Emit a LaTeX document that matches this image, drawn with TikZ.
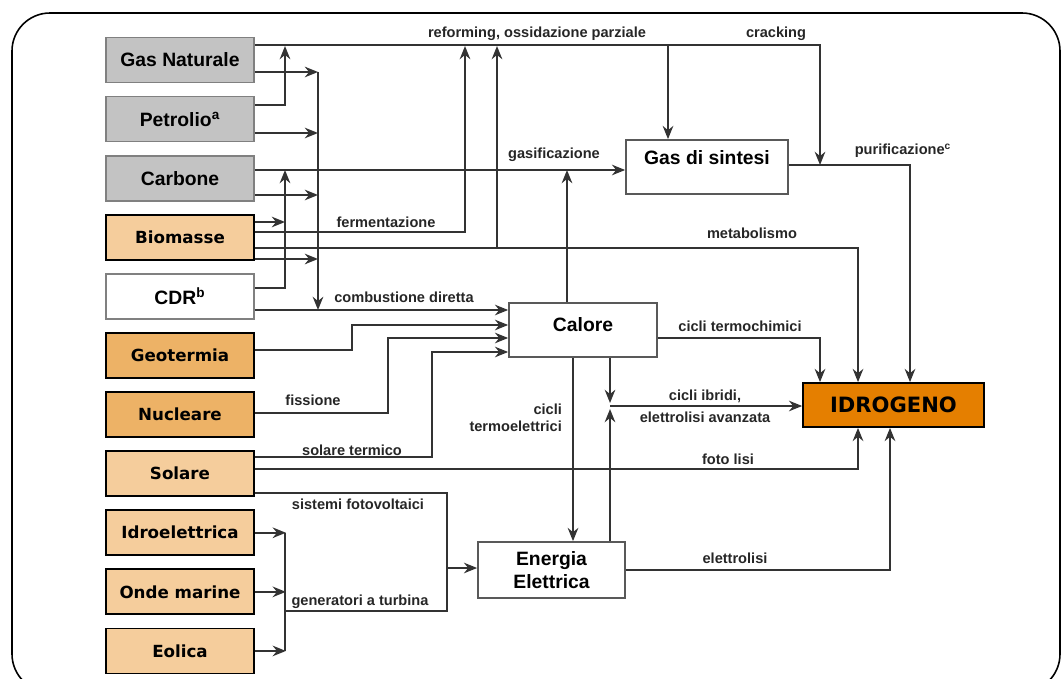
\documentclass[tikz,border=0pt]{standalone}
\usepackage{fontspec}
\setmainfont{Liberation Sans}
\newfontfamily\verdana{DejaVu Sans}
\usetikzlibrary{positioning,arrows.meta}

\definecolor{boxgray}{HTML}{C3C3C3}
\definecolor{lightorange}{HTML}{F5CD9C}
\definecolor{midorange}{HTML}{EDB266}
\definecolor{darkorange}{HTML}{E57F00}
\definecolor{linegray}{HTML}{333333}

\begin{document}
\begin{tikzpicture}[x=0.02cm,y=-0.02cm,node distance=0.247cm,
    source/.style={line width=1pt,minimum width=2.96cm,minimum height=0.9cm,inner sep=0pt},
    fossil/.style={source,draw=gray,fill=boxgray,font=\bfseries\fontsize{11}{12}\selectfont},
    waste/.style={source,draw=gray,fill=white,font=\bfseries\fontsize{11}{12}\selectfont},
    renew/.style={source,draw=black,fill=lightorange,font=\verdana\bfseries\fontsize{9.5}{11}\selectfont},
    deep/.style={renew,fill=midorange},
    plant/.style={draw=gray!70!black,fill=white,line width=1pt,inner sep=0pt,align=center,font=\bfseries\fontsize{11}{13}\selectfont},
    target/.style={draw=black,fill=darkorange,line width=1pt,inner sep=0pt,font=\verdana\bfseries\fontsize{12}{14}\selectfont},
    wire/.style={draw=linegray,line width=1.2pt},
    flow/.style={wire,-{Stealth[length=7.5pt,width=6pt]}},
    lbl/.style={inner sep=1pt,text=black!85,font=\bfseries\fontsize{8.3}{9.5}\selectfont}]
    \useasboundingbox (0,0) rectangle (1062,679);
    \draw[line width=0.9pt,rounded corners=0.76cm] (12,13) rectangle (1060,692);

    \node[fossil]                  (gas)   at (180,60) {Gas Naturale};
    \node[fossil,below=of gas]     (oil)   {Petrolio\textsuperscript{a}};
    \node[fossil,below=of oil]     (coal)  {Carbone};
    \node[renew,below=of coal]     (bio)   {Biomasse};
    \node[waste,below=of bio]      (cdr)   {CDR\textsuperscript{b}};
    \node[deep,below=of cdr]       (geo)   {Geotermia};
    \node[deep,below=of geo]       (nuc)   {Nucleare};
    \node[renew,below=of nuc]      (sun)   {Solare};
    \node[renew,below=of sun]      (hydro) {Idroelettrica};
    \node[renew,below=of hydro]    (wave)  {Onde marine};
    \node[renew,below=of wave]     (wind)  {Eolica};

    \node[plant,minimum width=3.24cm,minimum height=1.08cm,text depth=0.4cm]  (syn)    at (707,167)   {Gas di sintesi};
    \node[plant,minimum width=2.96cm,minimum height=1.08cm,text depth=0.24cm] (calore) at (583,330)   {Calore};
    \node[plant,minimum width=2.94cm,minimum height=1.12cm]                   (elec)   at (551.5,570) {Energia\\Elettrica};
    \node[target,minimum width=3.62cm,minimum height=0.88cm]                  (h2)     at (893.5,405) {IDROGENO};

    \draw[flow] (gas.east |- 0,45) -- (820,45) -- (820,165);
    \draw[flow] (668,45) -- (syn.north -| 668,0);
    \draw[flow] (gas.east |- 0,72) -- (318,72);
    \draw[flow] (oil.east |- 0,105) -- (285,105) -- (285,46);
    \draw[flow] (oil.east |- 0,133) -- (318,133);
    \draw[flow] (coal.east |- 0,170) -- (syn.west |- 0,170);
    \draw[flow] (coal.east |- 0,195) -- (318,195);
    \draw[flow] (bio.east |- 0,222) -- (285,222);
    \draw[flow] (bio.east |- 0,232) -- (465,232) -- (465,46);
    \draw[flow] (bio.east |- 0,248) -- (858,248) -- (h2.north -| 858,0);
    \draw[flow] (497,248) -- (497,46);
    \draw[flow] (bio.east |- 0,259) -- (318,259);
    \draw[flow] (cdr.east |- 0,288) -- (285,288) -- (285,170);
    \draw[flow] (318,72) -- (318,310);
    \draw[flow] (cdr.east |- 0,310) -- (calore.west |- 0,310);
    \draw[flow] (geo.east |- 0,350) -- (352,350) -- (352,325) -- (calore.west |- 0,325);
    \draw[flow] (nuc.east |- 0,413) -- (388,413) -- (388,338) -- (calore.west |- 0,338);
    \draw[flow] (sun.east |- 0,457) -- (432,457) -- (432,352) -- (calore.west |- 0,352);
    \draw[flow] (sun.east |- 0,469) -- (858,469) -- (h2.south -| 858,0);
    \draw[wire] (sun.east |- 0,493) -- (447,493) -- (447,611) -- (285,611);
    \draw[flow] (447,568) -- (elec.west |- 0,568);
    \foreach \src in {hydro,wave,wind}
        \draw[flow] (\src.east) -- ++(31,0);
    \draw[wire] (hydro.east -| 285,0) -- (wind.east -| 285,0);

    \draw[flow] (calore.north -| 567,0) -- (567,170);
    \draw[flow] (calore.east |- 0,338) -- (820,338) -- (h2.north -| 820,0);
    \draw[flow] (calore.south -| 573,0) -- (elec.north -| 573,0);
    \draw[flow] (calore.south -| 610,0) -- (610,403);
    \draw[flow] (elec.north -| 610,0) -- (610,409);
    \draw[flow] (610,406) -- (h2.west |- 0,406);
    \draw[flow] (syn.east |- 0,165) -- (910,165) -- (h2.north -| 910,0);
    \draw[flow] (elec.east) -- (890,570) -- (h2.south -| 890,0);

    \node[lbl] at (537,34)  {reforming, ossidazione parziale};
    \node[lbl] at (776,34)  {cracking};
    \node[lbl] at (554,155) {gasificazione};
    \node[lbl] at (903,151) {purificazione\textsuperscript{c}};
    \node[lbl] at (386,222) {fermentazione};
    \node[lbl] at (752,233) {metabolismo};
    \node[lbl] at (404,297) {combustione diretta};
    \node[lbl] at (740,326) {cicli termochimici};
    \node[lbl] at (313,400) {fissione};
    \node[lbl] at (705,396) {cicli ibridi,};
    \node[lbl] at (705,417) {elettrolisi avanzata};
    \node[lbl,align=right,anchor=east] at (564,418) {cicli\\termoelettrici};
    \node[lbl] at (352,450) {solare termico};
    \node[lbl] at (728,459) {foto lisi};
    \node[lbl] at (358,504) {sistemi fotovoltaici};
    \node[lbl] at (360,602) {generatori a turbina};
    \node[lbl] at (735,558) {elettrolisi};
\end{tikzpicture}
\end{document}
